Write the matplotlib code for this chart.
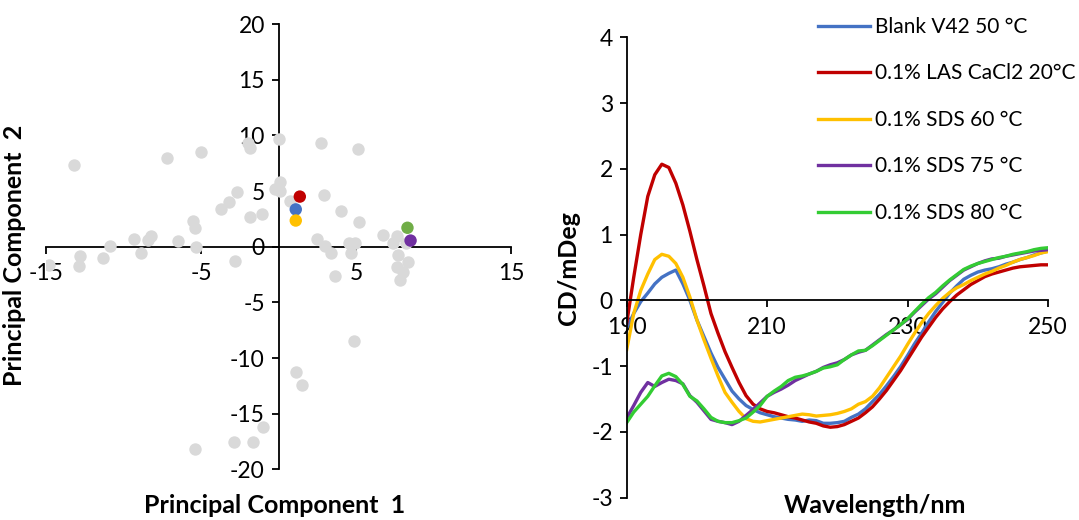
import matplotlib.pyplot as plt
import numpy as np

plt.rcParams['font.family'] = ['Lato', 'DejaVu Sans']
plt.rcParams['axes.unicode_minus'] = False

# PCA scores (background samples)
pc1_grey = [-13.2, -7.2, -5.0, -2.0, -1.85, 0.0, 2.75, 5.1,
            0.07, -0.27, 0.1, -2.7, -3.2, -3.7, 0.7, 2.9,
            -1.85, -1.05, 4.0, 5.2, -5.55, -5.4, -8.2, -8.4,
            -9.3, -6.5, -10.9, -5.3, 2.5, 3.0, 3.4, 4.5,
            4.95, 4.65, 6.75, 7.4, 7.6, 8.2, 7.7,
            -12.8, -11.3, -8.9, -14.8, -12.9, -2.8, 3.6,
            8.35, 7.6, 8.0, 7.85, 4.87, 1.1, 1.5,
            -1.0, -2.9, -1.65, -5.4]
pc2_grey = [7.3, 8.0, 8.5, 9.3, 8.9, 9.7, 9.3, 8.8,
            5.85, 5.2, 5.0, 4.9, 4.0, 3.4, 4.1, 4.6,
            2.65, 2.9, 3.2, 2.2, 2.3, 1.65, 1.0, 0.6,
            0.7, 0.5, 0.1, 0.0, 0.7, 0.1, -0.6, 0.3,
            0.3, -0.55, 1.05, 0.3, 1.0, 0.3, -0.75,
            -0.8, -1.0, -0.6, -1.6, -1.75, -1.25, -2.65,
            -1.35, -1.8, -2.25, -3.0, -8.5, -11.25, -12.4,
            -16.2, -17.5, -17.5, -18.2]

# highlighted samples
pc1_sel = [1.36, 1.1, 1.1, 8.3, 8.5]
pc2_sel = [4.5, 3.35, 2.35, 1.7, 0.55]
sel_colors = ['#C00000', '#4472C4', '#FFC000', '#70AD47', '#7030A0']

# CD spectra
wavelength = np.arange(190, 251)
labels = ['Blank V42 50 \u00b0C', '0.1% LAS CaCl2 20\u00b0C', '0.1% SDS 60 \u00b0C',
          '0.1% SDS 75 \u00b0C', '0.1% SDS 80 \u00b0C']
line_colors = ['#4472C4', '#C00000', '#FFC000', '#7030A0', '#33CC33']

cd_blank = [-0.42, -0.2, -0.02, 0.11, 0.25, 0.35, 0.41, 0.46, 0.25, 0.0,
            -0.3, -0.55, -0.8, -1.02, -1.2, -1.38, -1.5, -1.6, -1.66, -1.71,
            -1.74, -1.77, -1.79, -1.81, -1.82, -1.84, -1.82, -1.83, -1.87, -1.87,
            -1.86, -1.84, -1.78, -1.73, -1.65, -1.54, -1.43, -1.3, -1.16, -1.01,
            -0.84, -0.66, -0.5, -0.33, -0.17, -0.03, 0.11, 0.22, 0.32, 0.38,
            0.43, 0.46, 0.48, 0.51, 0.55, 0.58, 0.62, 0.65, 0.69, 0.72, 0.75]
cd_las20 = [-0.35, 0.35, 1.0, 1.58, 1.91, 2.07, 2.02, 1.78, 1.45, 1.05,
            0.62, 0.22, -0.2, -0.5, -0.78, -1.02, -1.25, -1.45, -1.58, -1.65,
            -1.69, -1.71, -1.74, -1.77, -1.79, -1.82, -1.85, -1.87, -1.91, -1.93,
            -1.92, -1.89, -1.84, -1.79, -1.71, -1.62, -1.5, -1.37, -1.22, -1.07,
            -0.9, -0.73, -0.56, -0.41, -0.26, -0.13, -0.02, 0.08, 0.16, 0.24,
            0.3, 0.36, 0.4, 0.43, 0.46, 0.49, 0.51, 0.52, 0.53, 0.54, 0.54]
cd_sds60 = [-0.75, -0.2, 0.15, 0.4, 0.62, 0.7, 0.67, 0.56, 0.35, 0.05,
            -0.3, -0.6, -0.88, -1.15, -1.4, -1.55, -1.69, -1.8, -1.84, -1.85,
            -1.83, -1.81, -1.79, -1.77, -1.75, -1.73, -1.74, -1.76, -1.75, -1.74,
            -1.72, -1.69, -1.65, -1.58, -1.54, -1.46, -1.33, -1.17, -1.01, -0.85,
            -0.67, -0.5, -0.34, -0.2, -0.08, 0.03, 0.12, 0.19, 0.24, 0.3,
            0.35, 0.4, 0.44, 0.49, 0.53, 0.58, 0.62, 0.65, 0.68, 0.72, 0.74]
cd_sds75 = [-1.79, -1.6, -1.4, -1.25, -1.31, -1.25, -1.2, -1.22, -1.27, -1.45,
            -1.55, -1.68, -1.81, -1.84, -1.86, -1.89, -1.84, -1.75, -1.66, -1.56,
            -1.46, -1.4, -1.35, -1.29, -1.22, -1.17, -1.12, -1.08, -1.02, -0.98,
            -0.95, -0.9, -0.83, -0.79, -0.76, -0.68, -0.6, -0.52, -0.45, -0.37,
            -0.29, -0.18, -0.08, 0.02, 0.1, 0.2, 0.3, 0.38, 0.46, 0.51,
            0.56, 0.6, 0.63, 0.64, 0.67, 0.69, 0.71, 0.73, 0.75, 0.76, 0.77]
cd_sds80 = [-1.86, -1.7, -1.58, -1.46, -1.3, -1.15, -1.11, -1.16, -1.28, -1.46,
            -1.53, -1.65, -1.78, -1.84, -1.86, -1.86, -1.83, -1.79, -1.7, -1.6,
            -1.46, -1.38, -1.31, -1.22, -1.17, -1.15, -1.12, -1.08, -1.03, -1.01,
            -0.98, -0.9, -0.83, -0.77, -0.76, -0.69, -0.61, -0.53, -0.45, -0.37,
            -0.28, -0.17, -0.06, 0.04, 0.12, 0.22, 0.31, 0.39, 0.47, 0.52,
            0.56, 0.59, 0.62, 0.65, 0.67, 0.7, 0.72, 0.74, 0.77, 0.79, 0.8]
spectra = [cd_blank, cd_las20, cd_sds60, cd_sds75, cd_sds80]

W, H = 1079, 520
fig = plt.figure(figsize=(W / 100, H / 100), dpi=100)
fs = 16.5      # tick labels
fs_lab = 18    # axis titles
fs_leg = 15    # legend


def px_axes(x0, x1, y0, y1):
    # pixel box (left, right, top, bottom) -> figure fraction
    return fig.add_axes([x0 / W, 1 - y1 / H, (x1 - x0) / W, (y1 - y0) / H])


def style_axes(ax):
    for s in ['top', 'right']:
        ax.spines[s].set_visible(False)
    for s in ['left', 'bottom']:
        ax.spines[s].set_linewidth(1.3)
    ax.tick_params(direction='out', length=5, width=1.3, labelsize=fs)


# ---- left: PCA score plot ----
ax1 = px_axes(46, 511.4, 24, 469.4)
ax1.scatter(pc1_grey, pc2_grey, s=80, c='#D9D9D9', linewidths=0, zorder=3)
ax1.scatter(pc1_sel, pc2_sel, s=80, c=sel_colors, linewidths=0, zorder=4)
ax1.set_xlim(-15, 15)
ax1.set_ylim(-20, 20)
ax1.spines['left'].set_position(('data', 0))
ax1.spines['bottom'].set_position(('data', 0))
style_axes(ax1)
ax1.set_xticks([-15, -5, 5, 15])
ax1.set_yticks(np.arange(-20, 21, 5))
ax1.tick_params(axis='x', pad=7)
ax1.tick_params(axis='y', pad=5)
ax1.set_xlabel('Principal Component  1', fontsize=fs_lab, fontweight='bold', va='center')
ax1.xaxis.set_label_coords(0.492, -0.08)
ax1.set_ylabel('Principal Component  2', fontsize=fs_lab, fontweight='bold', va='center')
ax1.yaxis.set_label_coords(-0.068, 0.481)

# ---- right: CD spectra ----
ax2 = px_axes(626.7, 1048, 37.3, 497.6)
for y, c, lab in zip(spectra, line_colors, labels):
    ax2.plot(wavelength, y, color=c, lw=2.4, label=lab)
ax2.set_xlim(190, 250)
ax2.set_ylim(-3, 4)
ax2.spines['bottom'].set_position(('data', 0))
style_axes(ax2)
ax2.set_xticks([190, 210, 230, 250])
ax2.set_yticks(np.arange(-3, 5, 1))
ax2.tick_params(axis='x', pad=7)
ax2.tick_params(axis='y', pad=5)
ax2.set_xlabel('Wavelength/nm', fontsize=fs_lab, fontweight='bold', va='center')
ax2.xaxis.set_label_coords(0.589, -0.018)
ax2.set_ylabel('CD/mDeg', fontsize=fs_lab, fontweight='bold', va='center')
ax2.yaxis.set_label_coords(-0.139, 0.499)

fig.legend(loc='upper left', bbox_to_anchor=(818 / W, 1 - 17 / H), frameon=False,
           fontsize=fs_leg, handlelength=2.5, handletextpad=0.25, labelspacing=1.27,
           borderpad=0, borderaxespad=0)

fig.savefig('out.png', dpi=100)
